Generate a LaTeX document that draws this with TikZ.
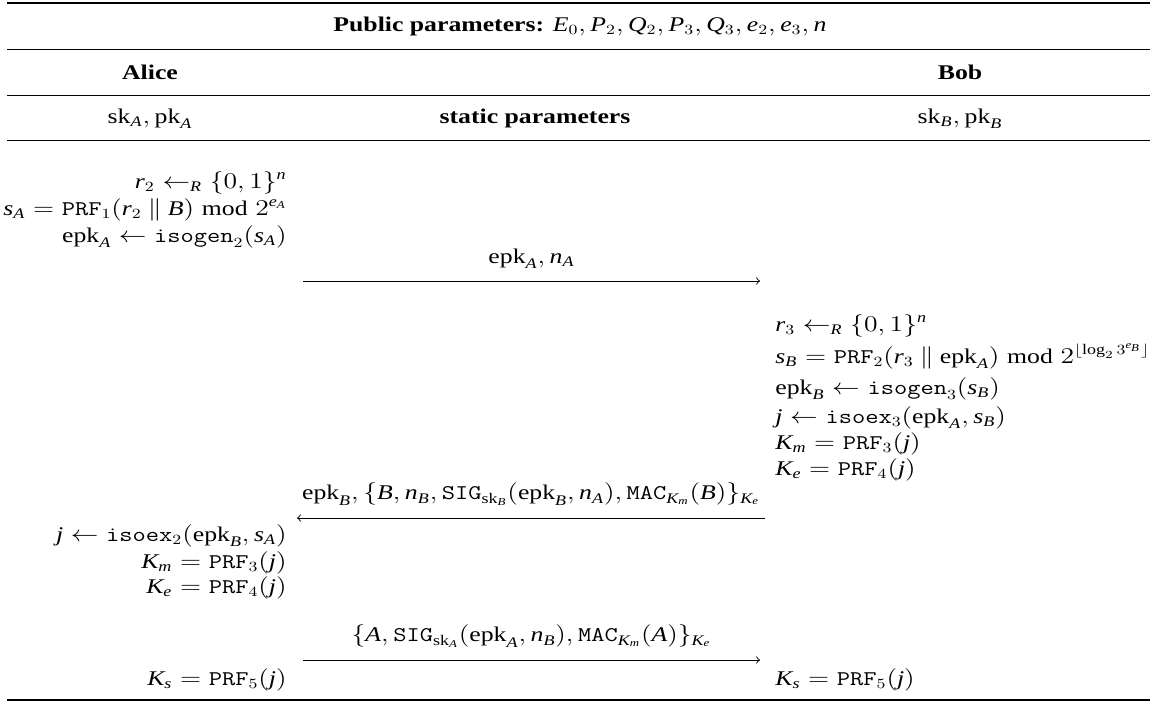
\documentclass[tikz,border=0pt]{standalone}
\usepackage{amsmath}
\usepackage{graphicx}
\usepackage{fontspec}
\setmainfont{Liberation Serif}
% italic math letters taken from the text serif
\DeclareSymbolFont{itletters}{TU}{\rmdefault}{m}{it}
\newcommand{\itl}[1]{\DeclareMathSymbol{#1}{\mathalpha}{itletters}{`#1}}
\itl a\itl b\itl c\itl d\itl e\itl f\itl g\itl h\itl i\itl j\itl k\itl l\itl m
\itl n\itl o\itl p\itl q\itl r\itl s\itl t\itl u\itl v\itl w\itl x\itl y\itl z
\itl A\itl B\itl C\itl D\itl E\itl F\itl G\itl H\itl I\itl J\itl K\itl L\itl M
\itl N\itl O\itl P\itl Q\itl R\itl S\itl T\itl U\itl V\itl W\itl X\itl Y\itl Z
\newcommand{\tpf}[1]{\mathtt{#1}}
\newcommand{\rnd}{\leftarrow_R}
\newsavebox{\sqbox}
\begin{document}
\begin{tikzpicture}[x=0.5pt,y=-0.5pt,
  txt/.style={inner sep=0pt,font=\fontsize{13.4}{16}\selectfont,
    execute at begin node={\begin{lrbox}{\sqbox}},
    execute at end node={\end{lrbox}\scalebox{0.96}[0.78]{\usebox{\sqbox}}}},
  lcol/.style={txt,anchor=base east},
  rcol/.style={txt,anchor=base west},
  ccol/.style={txt,anchor=base},
  msg/.style={-to,line width=0.45pt},
  lbl/.style={txt,midway,above=6pt},
  thickrule/.style={line width=1pt},
  thinrule/.style={line width=0.5pt}]
\useasboundingbox (0,0) rectangle (1156,703);

% table rules
\coordinate (r0l) at (7,3);   \coordinate (r0r) at (1150,3);
\coordinate (r1l) at (7,49);  \coordinate (r1r) at (1150,49);
\coordinate (r2l) at (7,95);  \coordinate (r2r) at (1150,95);
\coordinate (r3l) at (7,140); \coordinate (r3r) at (1150,140);
\coordinate (r4l) at (7,700); \coordinate (r4r) at (1150,700);
\draw[thickrule] (r0l) -- (r0r);
\draw[thinrule] (r1l) -- (r1r);
\draw[thinrule] (r2l) -- (r2r);
\draw[thinrule] (r3l) -- (r3r);
\draw[thickrule] (r4l) -- (r4r);

% header rows
\node[ccol] (pub) at (580,31) {\textbf{Public parameters:} $E_0, P_2, Q_2, P_3, Q_3, e_2, e_3, n$};
\node[ccol] (alice) at (150,79) {\textbf{Alice}};
\node[ccol] (bob) at (960,79) {\textbf{Bob}};
\node[ccol] (ska) at (150,123) {$\mathrm{sk}_A, \mathrm{pk}_A$};
\node[ccol] (stat) at (535,123) {\textbf{static parameters}};
\node[ccol] (skb) at (960,123) {$\mathrm{sk}_B, \mathrm{pk}_B$};

% Alice, first block
\node[lcol] (a1) at (287,188) {$r_2 \rnd \{0,1\}^n$};
\node[lcol] (a2) at (287,215) {$s_A = \tpf{PRF}_1(r_2 \mathbin{\|} B) \bmod 2^{e_A}$};
\node[lcol] (a3) at (287,242) {$\mathrm{epk}_A \leftarrow \tpf{isogen}_2(s_A)$};

% first message
\coordinate (m1s) at (303,281);
\coordinate (m1e) at (760,281);
\draw[msg] (m1s) -- node[lbl] (m1l) {$\mathrm{epk}_A, n_A$} (m1e);

% Bob block
\node[rcol] (b1) at (775,331) {$r_3 \rnd \{0,1\}^n$};
\node[rcol] (b2) at (775,363) {$s_B = \tpf{PRF}_2(r_3 \mathbin{\|} \mathrm{epk}_A) \bmod 2^{\lfloor \log_2 3^{e_B} \rfloor}$};
\node[rcol] (b3) at (775,394) {$\mathrm{epk}_B \leftarrow \tpf{isogen}_3(s_B)$};
\node[rcol] (b4) at (775,423) {$j \leftarrow \tpf{isoex}_3(\mathrm{epk}_A, s_B)$};
\node[rcol] (b5) at (775,449) {$K_m = \tpf{PRF}_3(j)$};
\node[rcol] (b6) at (775,475) {$K_e = \tpf{PRF}_4(j)$};

% second message
\coordinate (m2s) at (765,518);
\coordinate (m2e) at (297,518);
\draw[msg] (m2s) -- node[lbl] (m2l) {$\mathrm{epk}_B, \{B, n_B, \tpf{SIG}_{\mathrm{sk}_B}(\mathrm{epk}_B, n_A), \tpf{MAC}_{K_m}(B)\}_{K_e}$} (m2e);

% Alice, second block
\node[lcol] (a4) at (287,541) {$j \leftarrow \tpf{isoex}_2(\mathrm{epk}_B, s_A)$};
\node[lcol] (a5) at (287,568) {$K_m = \tpf{PRF}_3(j)$};
\node[lcol] (a6) at (287,593) {$K_e = \tpf{PRF}_4(j)$};

% third message
\coordinate (m3s) at (303,660);
\coordinate (m3e) at (760,660);
\draw[msg] (m3s) -- node[lbl] (m3l) {$\{A, \tpf{SIG}_{\mathrm{sk}_A}(\mathrm{epk}_A, n_B), \tpf{MAC}_{K_m}(A)\}_{K_e}$} (m3e);

% session keys
\node[lcol] (a7) at (287,685) {$K_s = \tpf{PRF}_5(j)$};
\node[rcol] (b7) at (775,685) {$K_s = \tpf{PRF}_5(j)$};
\end{tikzpicture}
\end{document}
